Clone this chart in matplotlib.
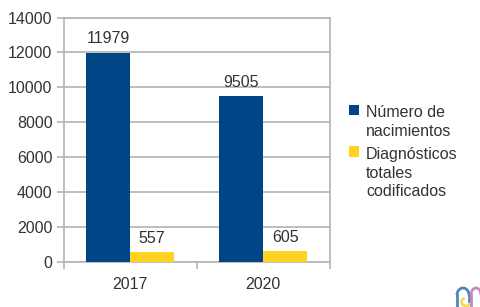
import matplotlib
matplotlib.use('Agg')
import matplotlib.pyplot as plt
from matplotlib.patches import Arc, Rectangle
import numpy as np

plt.rcParams['font.family'] = ['Liberation Sans', 'DejaVu Sans']

# Data
years = ['2017', '2020']
nacimientos = [11979, 9505]
diagnosticos = [557, 605]
yticks = [0, 2000, 4000, 6000, 8000, 10000, 12000, 14000]
legend_labels = ['Número de\nnacimientos', 'Diagnósticos\ntotales\ncodificados']

blue = '#004586'
yellow = '#ffd320'
grey = '#b3b3b3'
text_col = '#333333'
fs = 11.5

W, H = 480, 307
fig = plt.figure(figsize=(W / 100, H / 100), dpi=100)
ax = fig.add_axes([63.5 / W, 1 - 261.5 / H, (330 - 63.5) / W, (261.5 - 17.5) / H])

x = np.arange(len(years)) + 0.5
w = 0.33
b1 = ax.bar(x - w / 2, nacimientos, w, color=blue, zorder=3)
b2 = ax.bar(x + w / 2, diagnosticos, w, color=yellow, zorder=3)

# value labels above the bars
for bars, vals in [(b1, nacimientos), (b2, diagnosticos)]:
    for r, v in zip(bars, vals):
        ax.annotate(str(v), (r.get_x() + r.get_width() / 2, v), xytext=(0, 4.5),
                    textcoords='offset points', ha='center', va='bottom',
                    fontsize=fs, color=text_col)

ax.set_xlim(0, 2)
ax.set_ylim(0, 14000)
ax.set_yticks(yticks)
ax.set_xticks([0, 1, 2])
ax.set_xticklabels([])
ax.set_xticks(x, minor=True)
ax.set_xticklabels(years, minor=True)
ax.tick_params(axis='x', which='minor', length=0, labelsize=fs, labelcolor=text_col, pad=11.5)
ax.tick_params(axis='x', which='major', length=5, width=1.2, color=grey)
ax.tick_params(axis='y', length=5, width=1.2, color=grey, labelsize=fs, labelcolor=text_col, pad=3)
ax.grid(axis='y', color=grey, lw=1.2, zorder=0)
ax.set_axisbelow(True)
for s in ax.spines.values():
    s.set_color(grey)
    s.set_linewidth(1.2)

# legend drawn by hand, swatches line up with the first text line
for label, col, top, ytxt in zip(legend_labels, [blue, yellow], [105, 146], [105, 147]):
    fig.add_artist(Rectangle((348.5 / W, 1 - (top + 10.5) / H), 10.5 / W, 10.5 / H,
                             transform=fig.transFigure, color=col, lw=0))
    fig.text(366 / W, 1 - ytxt / H, label, ha='left', va='top', fontsize=fs,
             color=text_col, linespacing=1.3)

# small logo in the bottom right corner
logo = fig.add_axes([452 / W, 0, 28 / W, 22 / H])
logo.set_xlim(0, 28)
logo.set_ylim(22, 0)
logo.axis('off')
logo.plot([5, 5], [22, 10], color='#4f86b8', lw=2)
logo.add_patch(Arc((11, 10), 12, 14, theta1=180, theta2=360, color='#4f86b8', lw=2))
logo.plot([17, 17], [10, 16], color='#4f86b8', lw=2)
logo.plot([19, 19], [22, 10], color='#c58ac0', lw=2)
logo.add_patch(Arc((24, 10), 10, 14, theta1=180, theta2=360, color='#c58ac0', lw=2))
logo.add_patch(Arc((14, 17), 9, 8, theta1=20, theta2=250, color='#f2d750', lw=2))

fig.savefig('out.png', dpi=100)
